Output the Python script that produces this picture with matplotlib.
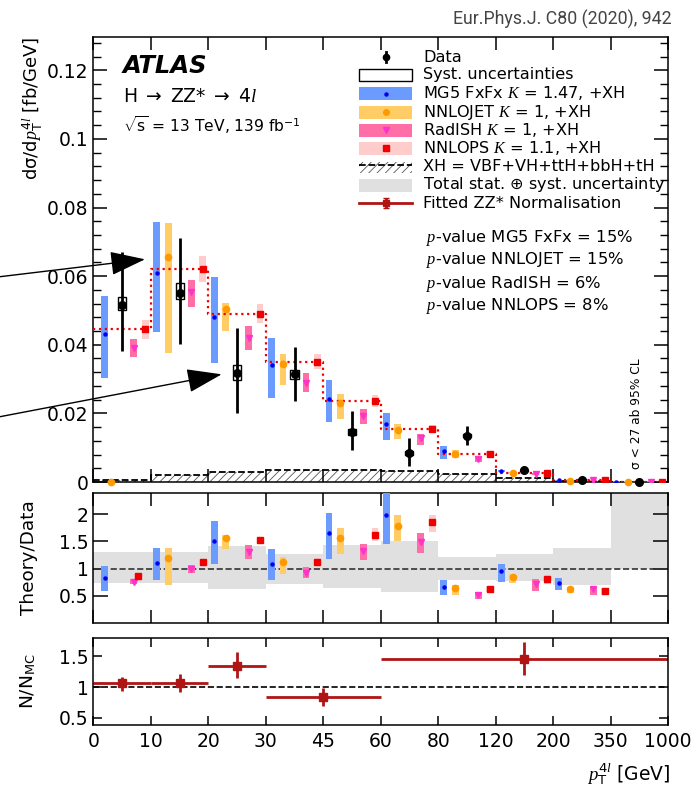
import numpy as np
import matplotlib
matplotlib.use('Agg')
import matplotlib.pyplot as plt
from matplotlib.patches import Rectangle, FancyArrowPatch

plt.rcParams['font.family'] = ['DejaVu Sans']
plt.rcParams['mathtext.fontset'] = 'custom'
plt.rcParams['mathtext.rm'] = 'DejaVu Sans'
plt.rcParams['mathtext.it'] = 'Liberation Serif:italic'
plt.rcParams['mathtext.bf'] = 'DejaVu Sans:bold'
plt.rcParams['mathtext.sf'] = 'DejaVu Sans'
plt.rcParams['hatch.linewidth'] = 0.6

# bin edges in GeV (drawn with equal width)
edges_gev = [0, 10, 20, 30, 45, 60, 80, 120, 200, 350, 1000]
edge_labels = ['0', '10', '20', '30', '45', '60', '80', '120', '200', '350', '1000']

# data [fb/GeV]
data = [0.0517, 0.0551, 0.0319, 0.0314, 0.0146, 0.0085, 0.0135, 0.0034, 0.0007, 0.00005]
data_lo = [0.0381, 0.0402, 0.0200, 0.0237, 0.0093, 0.0047, 0.0109, 0.0028, 0.0004, 0.0]
data_hi = [0.0669, 0.0712, 0.0449, 0.0393, 0.0207, 0.0127, 0.0163, 0.0040, 0.0010, 0.0001]
syst_lo = [0.0500, 0.0532, 0.0298, 0.0301, 0.0138, 0.0080, 0.0130, 0.0032, 0.0006, 0.0]
syst_hi = [0.0539, 0.0581, 0.0342, 0.0327, 0.0154, 0.0090, 0.0140, 0.0036, 0.0008, 0.0001]

# predictions
mg5 = [0.0430, 0.0608, 0.0480, 0.0340, 0.0241, 0.0168, 0.0090, 0.0032, 0.0005, 0.0001]
mg5_lo = [0.0302, 0.0436, 0.0348, 0.0246, 0.0174, 0.0122, 0.0066, 0.0028, 0.0004, 0.00005]
mg5_hi = [0.0542, 0.0759, 0.0597, 0.0420, 0.0296, 0.0202, 0.0105, 0.0036, 0.0006, 0.00015]
nnlojet = [0.0, 0.0657, 0.0503, 0.0343, 0.0229, 0.0153, 0.0083, 0.0027, 0.0004, 0.0001]
nnlojet_lo = [0.0, 0.0376, 0.0439, 0.0283, 0.0185, 0.0125, 0.0070, 0.0025, 0.0003, 0.00005]
nnlojet_hi = [0.0, 0.0756, 0.0522, 0.0374, 0.0257, 0.0169, 0.0093, 0.0030, 0.0005, 0.00015]
radish = [0.0390, 0.0554, 0.0420, 0.0290, 0.0192, 0.0127, 0.0066, 0.0024, 0.0005, 0.0001]
radish_lo = [0.0364, 0.0509, 0.0384, 0.0261, 0.0168, 0.0109, 0.0057, 0.0021, 0.0004, 0.00005]
radish_hi = [0.0418, 0.0588, 0.0454, 0.0319, 0.0213, 0.0141, 0.0076, 0.0027, 0.0006, 0.00015]
nnlops = [0.0446, 0.0620, 0.0491, 0.0351, 0.0237, 0.0155, 0.0082, 0.0026, 0.0005, 0.0001]
nnlops_lo = [0.0418, 0.0584, 0.0464, 0.0330, 0.0220, 0.0143, 0.0075, 0.0023, 0.0004, 0.00005]
nnlops_hi = [0.0473, 0.0659, 0.0519, 0.0373, 0.0254, 0.0166, 0.0089, 0.0029, 0.0006, 0.00015]
xh = [0.0007, 0.0021, 0.0029, 0.0034, 0.0036, 0.0031, 0.0024, 0.0013, 0.0002, 0.0001]

# theory / data
nan = np.nan
mg5_r = [0.835, 1.10, 1.50, 1.09, 1.65, 1.98, 0.67, 0.95, 0.73, nan]
mg5_r_lo = [0.59, 0.79, 1.09, 0.79, 1.18, 1.46, 0.51, 0.75, 0.60, nan]
mg5_r_hi = [1.04, 1.38, 1.88, 1.36, 2.02, 2.50, 0.79, 1.09, 0.83, nan]
nnlojet_r = [nan, 1.195, 1.57, 1.12, 1.56, 1.79, 0.64, 0.85, 0.63, nan]
nnlojet_r_lo = [nan, 0.69, 1.36, 0.90, 1.27, 1.50, 0.52, 0.74, 0.55, nan]
nnlojet_r_hi = [nan, 1.38, 1.62, 1.21, 1.74, 1.99, 0.69, 0.90, 0.66, nan]
radish_r = [0.756, 1.0, 1.31, 0.92, 1.33, 1.48, 0.51, 0.71, 0.62, nan]
radish_r_lo = [0.71, 0.92, 1.18, 0.83, 1.15, 1.29, 0.45, 0.59, 0.52, nan]
radish_r_hi = [0.81, 1.07, 1.43, 1.03, 1.46, 1.66, 0.57, 0.80, 0.68, nan]
nnlops_r = [0.86, 1.13, 1.53, 1.13, 1.62, 1.85, 0.63, 0.81, 0.59, nan]
nnlops_r_lo = [0.81, 1.07, 1.46, 1.07, 1.50, 1.68, 0.57, 0.71, 0.52, nan]
nnlops_r_hi = [0.91, 1.18, 1.58, 1.20, 1.74, 1.99, 0.68, 0.88, 0.65, nan]
tot_lo = [0.74, 0.73, 0.63, 0.71, 0.65, 0.57, 0.79, 0.77, 0.69, 1.0]
tot_hi = [1.30, 1.31, 1.41, 1.27, 1.43, 1.51, 1.21, 1.27, 1.38, 2.6]

# fitted ZZ* normalisation
zz_from = [0, 10, 20, 30, 60]
zz_to = [10, 20, 30, 60, 1000]
zz = [1.065, 1.065, 1.35, 0.84, 1.46]
zz_lo = [0.935, 0.92, 1.15, 0.69, 1.19]
zz_hi = [1.17, 1.205, 1.57, 0.98, 1.74]

# colours
c_mg5, c_mg5m = '#6b9bff', '#0000ee'
c_nj, c_njm = '#ffcc66', '#ff9900'
c_rad, c_radm = '#ff6ea6', '#ff33cc'
c_nps, c_npsm = '#ffcccc', '#ee0000'
c_tot = '#e0e0e0'
c_zz = '#b01515'

nb = len(data)
x = np.arange(nb)
edges = np.arange(nb + 1)
bw = 0.12  # band width in bin units

def idx(v):
    return edges_gev.index(v)

fig = plt.figure(figsize=(6.92, 8.0), dpi=100)
ax1 = fig.add_axes([93.4/692, 1-482/800, 574.6/692, 445/800])
ax2 = fig.add_axes([93.4/692, 1-623/800, 574.6/692, 130/800])
ax3 = fig.add_axes([93.4/692, 1-725/800, 574.6/692, 87/800])

# ---------------- top panel ----------------
ax1.fill_between(edges, np.append(xh, xh[-1]), step='post', facecolor='none',
                 edgecolor='#555555', hatch='////', lw=0)
ax1.step(edges, np.append(xh, xh[-1]), where='post', color='k', ls='--', lw=1.3)

off_mg5 = np.array([0.2] + [0.1]*(nb-1))
def band(ax, off, lo, hi, col, zo=3):
    lo = np.array(lo, float); hi = np.array(hi, float)
    ax.bar(x + off, hi - lo, bottom=lo, width=bw, color=col, lw=0, zorder=zo)

band(ax1, off_mg5, mg5_lo, mg5_hi, c_mg5)
band(ax1, 0.3, nnlojet_lo, nnlojet_hi, c_nj)
band(ax1, 0.7, radish_lo, radish_hi, c_rad)
band(ax1, 0.9, nnlops_lo, nnlops_hi, c_nps)
ax1.step(edges, np.append(nnlops, nnlops[-1]), where='post', color=c_npsm, ls=':', lw=1.6, zorder=4)
ax1.plot(x + off_mg5, mg5, 'o', color=c_mg5m, ms=2.2, zorder=5)
ax1.plot(x + 0.3, nnlojet, 'o', color=c_njm, ms=4.5, zorder=5, clip_on=False)
ax1.plot(x + 0.7, radish, 'v', color=c_radm, ms=4, zorder=5)
ax1.plot(x + 0.9, nnlops, 's', color=c_npsm, ms=4, zorder=5)

# data with syst boxes
s_lo = np.array(syst_lo); s_hi = np.array(syst_hi)
ax1.bar(x + 0.5, s_hi - s_lo, bottom=s_lo, width=0.14, fill=False, edgecolor='k', lw=1, zorder=6)
d = np.array(data)
ax1.errorbar(x + 0.5, d, yerr=[d - np.array(data_lo), np.array(data_hi) - d], fmt='o',
             color='k', ms=5.5, elinewidth=2, capsize=0, zorder=7, clip_on=False)

ax1.text(9.45, 0.0038, 'σ < 27 ab 95% CL', rotation=90, ha='center', va='bottom', fontsize=8.8)

ax1.set_xlim(0, nb)
ax1.set_ylim(0, 0.1297)
ax1.set_yticks(np.arange(0, 0.121, 0.02))
ax1.set_yticklabels(['0', '0.02', '0.04', '0.06', '0.08', '0.1', '0.12'])
ax1.set_yticks(np.arange(0, 0.13, 0.004), minor=True)
ax1.set_ylabel(r'dσ/d$p_{\mathrm{T}}^{4l}$ [fb/GeV]', fontsize=13, loc='top')
ax1.yaxis.set_label_coords(-0.085, 1.0)

def xfrac(px):
    return (px - 93.4) / 574.6
def yfrac(py):
    return 1 - (py - 37) / 445.0

tr = ax1.transAxes
ax1.text(xfrac(123), yfrac(66), 'ATLAS', fontsize=17.5, fontweight='bold', style='italic',
         va='center', transform=tr)
ax1.text(xfrac(123), yfrac(97), r'H $\rightarrow$ ZZ* $\rightarrow$ 4$l$', fontsize=13.5,
         va='center', transform=tr)
ax1.text(xfrac(123), yfrac(125), r'$\sqrt{\mathrm{s}}$ = 13 TeV, 139 fb$^{-1}$', fontsize=11.2,
         va='center', transform=tr)

# legend drawn by hand
rows = [57, 75, 93.5, 112, 130, 148.3, 166.7, 185, 203.3]
labels = ['Data', 'Syst. uncertainties', r'MG5 FxFx $K$ = 1.47, +XH', r'NNLOJET $K$ = 1, +XH',
          r'RadISH $K$ = 1, +XH', r'NNLOPS $K$ = 1.1, +XH', 'XH = VBF+VH+ttH+bbH+tH',
          r'Total stat. $\oplus$ syst. uncertainty', 'Fitted ZZ* Normalisation']
hx0, hx1 = xfrac(359), xfrac(412)
hcx = 0.5 * (hx0 + hx1)
hh = 13 / 445.0
for i, lab in enumerate(labels):
    yc = yfrac(rows[i])
    ax1.text(xfrac(423), yc, lab, fontsize=11.6, va='center', transform=tr)
    if i == 0:
        ax1.plot([hcx, hcx], [yc - 5/445, yc + 5/445], color='k', lw=2, transform=tr)
        ax1.plot(hcx, yc, 'o', color='k', ms=4.5, transform=tr)
    elif i == 1:
        ax1.add_patch(Rectangle((hx0, yc - 6/445), hx1 - hx0, 12/445, facecolor='white',
                                edgecolor='k', lw=1, transform=tr))
    elif i in (2, 3, 4, 5):
        col, mcol, mk, ms = [(c_mg5, c_mg5m, 'o', 2.2), (c_nj, c_njm, 'o', 4),
                             (c_rad, c_radm, 'v', 4), (c_nps, c_npsm, 's', 4)][i - 2]
        ax1.add_patch(Rectangle((hx0, yc - hh/2), hx1 - hx0, hh, facecolor=col, lw=0, transform=tr))
        ax1.plot(hcx, yc, mk, color=mcol, ms=ms, transform=tr)
    elif i == 6:
        ax1.add_patch(Rectangle((hx0, yc - 6/445), hx1 - hx0, 11/445, facecolor='none',
                                edgecolor='#555555', hatch='////', lw=0, transform=tr))
        ax1.plot([hx0, hx1], [yc + 2/445, yc + 2/445], color='k', ls='--', lw=1.3, transform=tr)
    elif i == 7:
        ax1.add_patch(Rectangle((hx0, yc - hh/2), hx1 - hx0, hh, facecolor=c_tot, lw=0, transform=tr))
    else:
        ax1.plot([hx0, hx1], [yc, yc], color=c_zz, lw=2, transform=tr)
        ax1.errorbar([hcx], [yc], yerr=[[5/445], [5/445]], fmt='s', color=c_zz, ms=5,
                     elinewidth=2, capsize=2.5, transform=tr)

pvals = [r'$p$-value MG5 FxFx = 15%', r'$p$-value NNLOJET = 15%',
         r'$p$-value RadISH = 6%', r'$p$-value NNLOPS = 8%']
for i, t in enumerate(pvals):
    ax1.text(xfrac(426), yfrac([238, 260.5, 284, 306.5][i]), t, fontsize=11.8, va='center',
             transform=tr)

# ---------------- ratio panel ----------------
t_lo = np.array(tot_lo); t_hi = np.array(tot_hi)
ax2.bar(x + 0.5, t_hi - t_lo, bottom=t_lo, width=1.0, color=c_tot, lw=0, zorder=1)
ax2.axhline(1, color='#333333', ls='--', lw=1.2, zorder=2)
off_nps_r = np.array([0.77] + [0.9]*(nb-1))
band(ax2, off_mg5, mg5_r_lo, mg5_r_hi, c_mg5)
band(ax2, 0.3, nnlojet_r_lo, nnlojet_r_hi, c_nj)
band(ax2, 0.7, radish_r_lo, radish_r_hi, c_rad)
band(ax2, off_nps_r, nnlops_r_lo, nnlops_r_hi, c_nps)
ax2.plot(x + off_mg5, mg5_r, 'o', color=c_mg5m, ms=2.2, zorder=5)
ax2.plot(x + 0.3, nnlojet_r, 'o', color=c_njm, ms=4.5, zorder=5)
ax2.plot(x + 0.7, radish_r, 'v', color=c_radm, ms=4, zorder=5)
ax2.plot(x + off_nps_r, nnlops_r, 's', color=c_npsm, ms=4, zorder=5)
ax2.set_xlim(0, nb)
ax2.set_ylim(0, 2.39)
ax2.set_yticks([0.5, 1, 1.5, 2])
ax2.set_yticklabels(['0.5', '1', '1.5', '2'])
ax2.set_ylabel('Theory/Data', fontsize=13.3)
ax2.yaxis.set_label_coords(-0.097, 0.5)

# ---------------- ZZ* normalisation ----------------
ax3.axhline(1, color='k', ls='--', lw=1.2)
zx0 = np.array([idx(v) for v in zz_from]); zx1 = np.array([idx(v) for v in zz_to])
zc = 0.5 * (zx0 + zx1)
z = np.array(zz)
ax3.errorbar(zc, z, xerr=0.5 * (zx1 - zx0), yerr=[z - np.array(zz_lo), np.array(zz_hi) - z],
             fmt='s', color=c_zz, ms=5.5, elinewidth=2, capsize=0)
ax3.set_xlim(0, nb)
ax3.set_ylim(0.38, 1.8)
ax3.set_yticks([0.5, 1, 1.5])
ax3.set_yticklabels(['0.5', '1', '1.5'])
ax3.set_ylabel(r'N/N$_{\mathrm{MC}}$', fontsize=13.3)
ax3.yaxis.set_label_coords(-0.097, 0.5)
ax3.set_xlabel(r'$p_{\mathrm{T}}^{4l}$ [GeV]', fontsize=13.5, loc='right')
ax3.xaxis.set_label_coords(1.005, -0.42)

# ticks ATLAS style
for ax, ymaj, xmaj in [(ax1, 10, 9.5), (ax2, 11, 9.5), (ax3, 6.5, 6.5)]:
    ax.set_xticks(edges)
    ax.tick_params(which='both', direction='in', top=True, right=True, labelsize=13.5)
    ax.tick_params(axis='y', which='major', length=ymaj, width=1.1)
    ax.tick_params(axis='y', which='minor', length=5.5, width=1.0)
    ax.tick_params(axis='x', which='major', length=xmaj, width=1.1)
    for s in ax.spines.values():
        s.set_linewidth(1.1)
ax1.tick_params(axis='x', labelbottom=False)
ax2.tick_params(axis='x', labelbottom=False)
ax3.set_xticklabels(edge_labels)
ax3.tick_params(axis='x', pad=5)

fig.text(672/692, 1 - 19/800, 'Eur.Phys.J. C80 (2020), 942', ha='right', va='center',
         fontsize=12.8, family='Roboto', color='#444444')

# arrows on the left
arr = dict(arrowstyle='-|>,head_length=2.2,head_width=0.75', color='k', lw=1,
           shrinkA=0, shrinkB=0, mutation_scale=10)
fig.add_artist(FancyArrowPatch((0, 1 - 276.7/800), (145/692, 1 - 259.3/800),
                               transform=fig.transFigure, **arr))
fig.add_artist(FancyArrowPatch((0, 1 - 416.7/800), (221.7/692, 1 - 374.3/800),
                               transform=fig.transFigure, **arr))

fig.savefig('out.png', dpi=100)
